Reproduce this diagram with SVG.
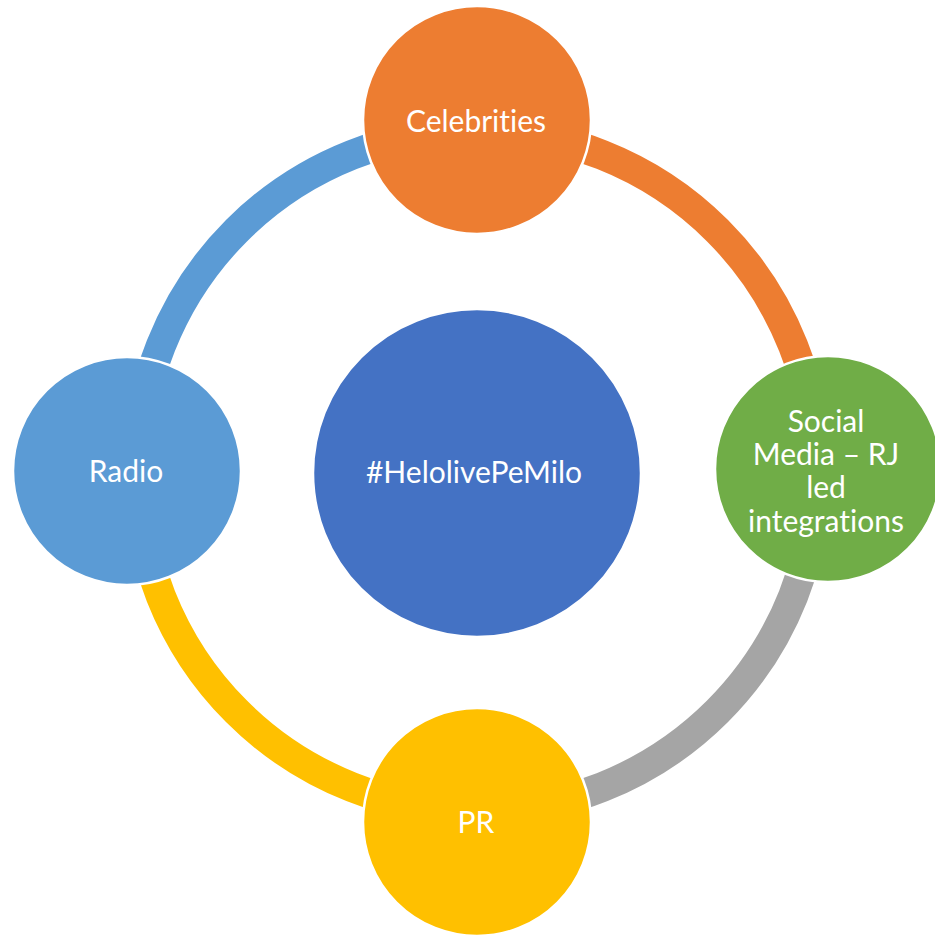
<svg xmlns="http://www.w3.org/2000/svg" width="935" height="936" viewBox="0 0 935 936">
<style>
.ring{fill:none;stroke-width:30}
.node{stroke:#ffffff;stroke-width:2.5}
.lbl{font-family:Lato,"Liberation Sans",sans-serif;font-size:30px;fill:#ffffff;text-anchor:middle;font-variant-ligatures:none;font-feature-settings:"liga" 0}
</style>
<rect width="935" height="936" fill="#ffffff"/>
<g id="connectors">
<path class="ring" stroke="#ED7D31" d="M477 131 A340 340 0 0 1 817 471"/>
<path class="ring" stroke="#A5A5A5" d="M817 471 A340 340 0 0 1 477 811"/>
<path class="ring" stroke="#FFC000" d="M477 811 A340 340 0 0 1 137 471"/>
<path class="ring" stroke="#5B9BD5" d="M137 471 A340 340 0 0 1 477 131"/>
</g>
<g id="center">
<circle class="node" cx="477" cy="473" r="164" fill="#4472C4"/>
<text class="lbl" x="474" y="483">#HelolivePeMilo</text>
</g>
<g id="celebrities">
<circle class="node" cx="477" cy="120" r="114" fill="#ED7D31"/>
<text class="lbl" x="476" y="132">Celebrities</text>
</g>
<g id="social">
<circle class="node" cx="828" cy="469" r="113" fill="#70AD47"/>
<text class="lbl" x="826" y="432">Social</text>
<text class="lbl" x="826" y="465">Media – RJ</text>
<text class="lbl" x="826" y="498">led</text>
<text class="lbl" x="826" y="532">integrations</text>
</g>
<g id="pr">
<circle class="node" cx="477" cy="822" r="114" fill="#FFC000"/>
<text class="lbl" x="476" y="833">PR</text>
</g>
<g id="radio">
<circle class="node" cx="127" cy="471" r="114" fill="#5B9BD5"/>
<text class="lbl" x="126" y="482">Radio</text>
</g>
</svg>
